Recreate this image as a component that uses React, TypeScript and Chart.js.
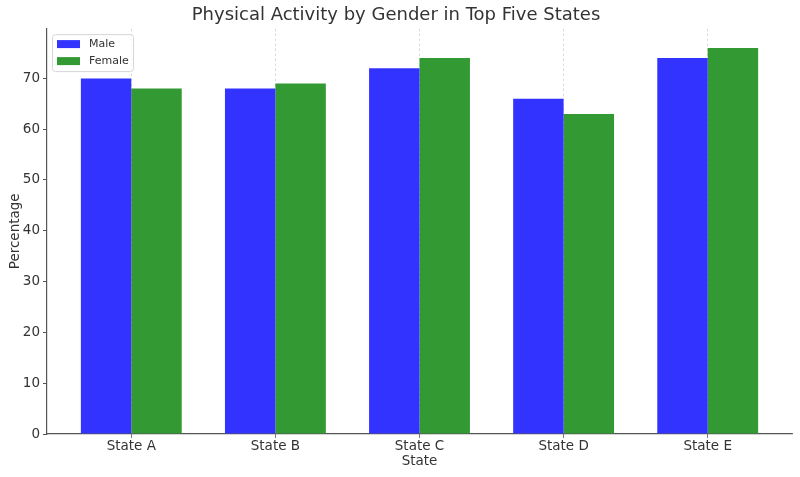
import React, { useEffect, useRef } from "react";
import { Chart, registerables } from "chart.js";

Chart.register(...registerables);

const categories = ["State A", "State B", "State C", "State D", "State E"];
const maleValues = [70, 68, 72, 66, 74];
const femaleValues = [68, 69, 74, 63, 76];
const yTicks = [0, 10, 20, 30, 40, 50, 60, 70];
const seriesNames = ["Male", "Female"];
const seriesColors = ["#3333ff", "#339933"];

const FONT = "'DejaVu Sans', sans-serif";
const TEXT = "#333333";
const AXIS = "#555555";

const legendPlugin = {
  id: "insideLegend",
  afterDraw(chart: any) {
    const { ctx, chartArea } = chart;
    const x0 = chartArea.left + 5.5;
    const y0 = chartArea.top + 6;
    const w = 81;
    const h = 37;
    ctx.save();
    ctx.beginPath();
    const r = 3;
    ctx.moveTo(x0 + r, y0);
    ctx.lineTo(x0 + w - r, y0);
    ctx.quadraticCurveTo(x0 + w, y0, x0 + w, y0 + r);
    ctx.lineTo(x0 + w, y0 + h - r);
    ctx.quadraticCurveTo(x0 + w, y0 + h, x0 + w - r, y0 + h);
    ctx.lineTo(x0 + r, y0 + h);
    ctx.quadraticCurveTo(x0, y0 + h, x0, y0 + h - r);
    ctx.lineTo(x0, y0 + r);
    ctx.quadraticCurveTo(x0, y0, x0 + r, y0);
    ctx.closePath();
    ctx.fillStyle = "rgba(255,255,255,0.8)";
    ctx.fill();
    ctx.strokeStyle = "#d6d6d6";
    ctx.lineWidth = 1;
    ctx.stroke();
    ctx.font = `11px ${FONT}`;
    ctx.textBaseline = "middle";
    ctx.textAlign = "left";
    seriesNames.forEach((name, i) => {
      const cy = y0 + 9.5 + i * 17;
      ctx.fillStyle = seriesColors[i];
      ctx.fillRect(x0 + 4.5, cy - 4, 23, 8);
      ctx.fillStyle = TEXT;
      ctx.fillText(name, x0 + 36.5, cy);
    });
    ctx.restore();
  },
};

export default function App() {
  const ref = useRef<HTMLCanvasElement>(null);
  useEffect(() => {
    document.body.style.margin = "0";
    const canvas = ref.current!;
    const chart = new Chart(canvas, {
      type: "bar",
      data: {
        datasets: [
          {
            label: seriesNames[0],
            data: maleValues.map((v, i) => ({ x: i, y: v })),
            backgroundColor: seriesColors[0],
            categoryPercentage: 0.7,
            barPercentage: 1.0,
          },
          {
            label: seriesNames[1],
            data: femaleValues.map((v, i) => ({ x: i, y: v })),
            backgroundColor: seriesColors[1],
            categoryPercentage: 0.7,
            barPercentage: 1.0,
          },
        ],
      },
      options: {
        animation: false,
        responsive: false,
        maintainAspectRatio: false,
        layout: { padding: { left: 0, right: 8, top: 0, bottom: 0 } },
        plugins: {
          legend: { display: false },
          tooltip: { enabled: false },
          title: {
            display: true,
            text: "Physical Activity by Gender in Top Five States",
            color: TEXT,
            font: { family: FONT, size: 18, weight: "normal" },
            padding: { top: 5, bottom: 2 },
          },
        },
        scales: {
          x: {
            type: "linear",
            min: -0.585,
            max: 4.585,
            offset: false,
            z: 1,
            afterBuildTicks: (s: any) => {
              s.ticks = categories.map((_, i) => ({ value: i }));
            },
            afterFit: (s: any) => {
              s.height = 43;
            },
            ticks: {
              color: TEXT,
              font: { family: FONT, size: 13.5 },
              padding: 0,
              maxRotation: 0,
              autoSkip: false,
              callback: (v: any) => categories[v as number] ?? "",
            },
            grid: {
              display: true,
              offset: false,
              drawOnChartArea: true,
              color: "#cfcfcf",
              lineWidth: 0.8,
              drawTicks: true,
              tickLength: 4,
              tickColor: AXIS,
              tickBorderDash: [],
            },
            border: { display: true, color: AXIS, width: 1.2, dash: [2.5, 2.5] },
            title: {
              display: true,
              text: "State",
              color: TEXT,
              font: { family: FONT, size: 13.5 },
              padding: { top: 0, bottom: 7 },
            },
          },
          y: {
            type: "linear",
            min: 0,
            max: 79.8,
            afterBuildTicks: (s: any) => {
              s.ticks = yTicks.map((v) => ({ value: v }));
            },
            afterFit: (s: any) => {
              s.width = 47;
            },
            ticks: {
              color: TEXT,
              font: { family: FONT, size: 13.5 },
              padding: 3,
            },
            grid: {
              display: true,
              drawOnChartArea: false,
              drawTicks: true,
              tickLength: 4,
              tickColor: AXIS,
            },
            border: { display: true, color: AXIS, width: 1.2 },
            title: {
              display: true,
              text: "Percentage",
              color: TEXT,
              font: { family: FONT, size: 13.5 },
              padding: { top: 7, bottom: 0 },
            },
          },
        },
      } as any,
      plugins: [legendPlugin],
    });
    return () => chart.destroy();
  }, []);
  return (
    <div style={{ width: 800, height: 477 }}>
      <canvas ref={ref} width={800} height={477} style={{ display: "block" }} />
    </div>
  );
}
